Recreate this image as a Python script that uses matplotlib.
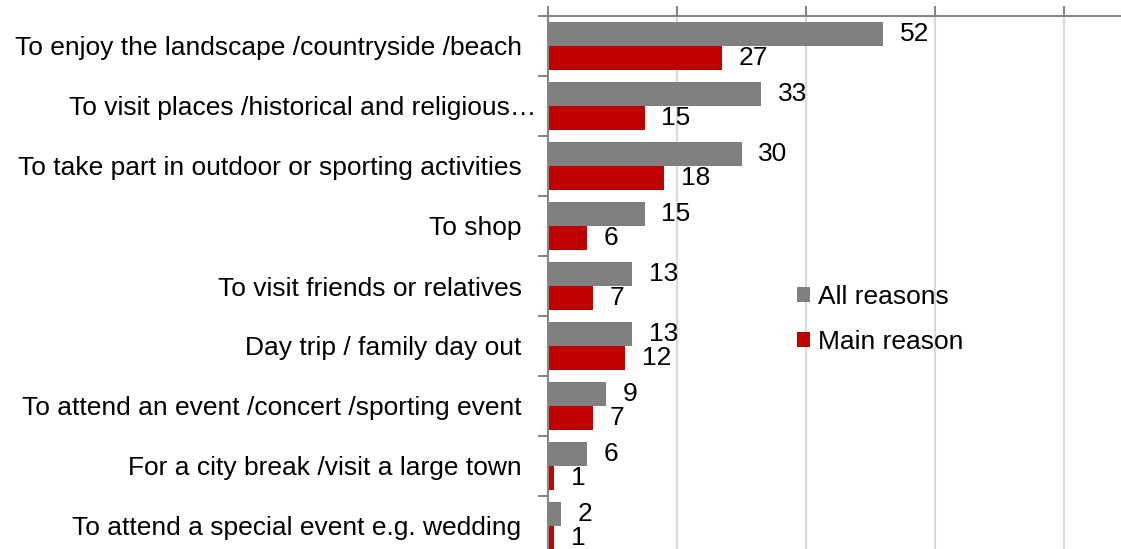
import numpy as np
import matplotlib.pyplot as plt
import matplotlib.transforms as mtransforms

plt.rcParams['font.family'] = ['Liberation Sans', 'DejaVu Sans']

categories = ["To enjoy the landscape /countryside /beach",
              "To visit places /historical and religious\u2026",
              "To take part in outdoor or sporting activities",
              "To shop",
              "To visit friends or relatives",
              "Day trip / family day out",
              "To attend an event /concert /sporting event",
              "For a city break /visit a large town",
              "To attend a special event e.g. wedding"]
all_reasons = [52, 33, 30, 15, 13, 13, 9, 6, 2]
main_reason = [27, 15, 18, 6, 7, 12, 7, 1, 1]

gray = "#808080"
red = "#C00000"
axis_col = "#868686"
fs = 19

fig = plt.figure(figsize=(11.21, 5.49), dpi=100)
# axes spans a bit past the figure edges (the reference is cropped)
ax = fig.add_axes([548 / 1121, -7 / 549, 645 / 1121, 540 / 549])

y = np.arange(len(categories))
h = 0.4
b1 = ax.barh(y - h / 2, all_reasons, height=h, color=gray, label="All reasons")
b2 = ax.barh(y + h / 2, main_reason, height=h, color=red, label="Main reason")
ax.bar_label(b1, padding=12, fontsize=fs)
ax.bar_label(b2, padding=12, fontsize=fs)

ax.set_xlim(0, 100)
ax.set_ylim(len(categories) - 0.5, -0.5)
ax.xaxis.tick_top()
ax.set_xticks(np.arange(0, 101, 20))
ax.set_xticklabels([])
ax.tick_params(axis='x', length=7, width=1.5, color=axis_col, direction='out')
ax.xaxis.grid(True, color="#D9D9D9", linewidth=1.5)
ax.set_axisbelow(True)

ax.set_yticks(y)
ax.set_yticklabels(categories, fontsize=fs)
ax.set_yticks(np.arange(-0.5, len(categories), 1), minor=True)
ax.tick_params(axis='y', which='major', length=0, pad=19)
ax.tick_params(axis='y', which='minor', length=7, width=1.5, color=axis_col)
# the truncated label sits a bit further right, as in the reference
lbl = ax.get_yticklabels()[1]
lbl.set_transform(lbl.get_transform() + mtransforms.ScaledTranslation(15 / 100, 0, fig.dpi_scale_trans))

for side in ['right', 'bottom']:
    ax.spines[side].set_visible(False)
ax.spines['top'].set_color(axis_col)
ax.spines['top'].set_linewidth(1.5)
ax.spines['left'].set_color(axis_col)
ax.spines['left'].set_linewidth(1.5)

ax.legend(loc='upper left', bbox_to_anchor=(0.366, 0.527), frameon=False, fontsize=fs,
          borderpad=0, handlelength=0.5, handleheight=0.5, handletextpad=0.3, labelspacing=0.8)

fig.savefig("out.png", dpi=100)
